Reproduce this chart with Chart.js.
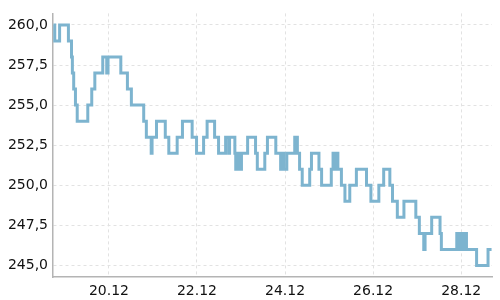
<!DOCTYPE html>
<html>
<head>
<meta charset="utf-8">
<script src="https://cdn.jsdelivr.net/npm/chart.js@4/dist/chart.umd.min.js"></script>
<style>
    html, body { margin: 0; padding: 0; background: #fff; }
    #wrap { width: 500px; height: 300px; }
</style>
</head>
<body>
<div id="wrap"><canvas id="priceChart"></canvas></div>
<script>
// time of each price change, in days of December (e.g. 20.5 = 20.12 noon)
const changeDays = [
    18.74, 18.77, 18.88, 19.08, 19.15, 19.17, 19.20, 19.24, 19.28, 19.52,
    19.61, 19.68, 19.86, 19.95, 19.98, 20.27, 20.42, 20.51, 20.79, 20.85,
    20.96, 20.98, 21.08, 21.28, 21.36, 21.55, 21.67, 21.89, 21.99, 22.15,
    22.23, 22.40, 22.49, 22.65, 22.72, 22.74, 22.86, 22.88, 22.91, 22.94,
    22.97, 22.99, 23.01, 23.15, 23.33, 23.37, 23.54, 23.60, 23.79, 23.90,
    23.94, 23.97, 24.04, 24.22, 24.28, 24.33, 24.39, 24.56, 24.60, 24.77,
    24.83, 25.05, 25.09, 25.13, 25.16, 25.20, 25.28, 25.36, 25.47, 25.62,
    25.85, 25.95, 26.13, 26.24, 26.38, 26.44, 26.55, 26.70, 26.97, 27.05,
    27.15, 27.18, 27.33, 27.52, 27.55, 27.90, 27.94, 27.98, 28.03, 28.07,
    28.12, 28.35, 28.61, 28.69
];
const prices = [
    260, 259, 260, 259, 258, 257, 256, 255, 254, 255,
    256, 257, 258, 257, 258, 257, 256, 255, 254, 253,
    252, 253, 254, 253, 252, 253, 254, 253, 252, 253,
    254, 253, 252, 253, 252, 253, 252, 251, 252, 251,
    252, 251, 252, 253, 252, 251, 252, 253, 252, 251,
    252, 251, 252, 253, 252, 251, 250, 251, 252, 251,
    250, 251, 252, 251, 252, 251, 250, 249, 250, 251,
    250, 249, 250, 251, 250, 249, 248, 249, 248, 247,
    246, 247, 248, 247, 246, 247, 246, 247, 246, 247,
    246, 245, 246, 246
];
const dayTicks = [20, 22, 24, 26, 28];
const priceTicks = [245, 247.5, 250, 252.5, 255, 257.5, 260];

const points = changeDays.map((d, i) => ({ x: d, y: prices[i] }));

const gridStyle = {
    color: '#e2e2e2',
    lineWidth: 1,
    drawTicks: false
};

new Chart(document.getElementById('priceChart'), {
    type: 'line',
    data: {
        datasets: [{
            data: points,
            stepped: true,
            borderColor: '#7db4cf',
            borderWidth: 3,
            pointRadius: 0,
            fill: false
        }]
    },
    options: {
        responsive: true,
        maintainAspectRatio: false,
        animation: false,
        layout: { padding: { top: 5, right: 8, left: 0, bottom: 0 } },
        plugins: {
            legend: { display: false },
            tooltip: { enabled: false }
        },
        scales: {
            x: {
                type: 'linear',
                min: 18.73,
                max: 28.70,
                grid: gridStyle,
                border: { color: '#b4b4b4', width: 1.5, dash: [3, 3] },
                afterBuildTicks: (s) => { s.ticks = dayTicks.map(v => ({ value: v })); },
                afterFit: (s) => { s.height = 23; },
                ticks: {
                    padding: 6,
                    color: '#111',
                    font: { family: 'DejaVu Sans', size: 14 },
                    maxRotation: 0,
                    callback: (v) => v + '.12'
                }
            },
            y: {
                min: 244.28,
                max: 260.72,
                grid: gridStyle,
                border: { color: '#b4b4b4', width: 1.5, dash: [3, 3] },
                afterBuildTicks: (s) => { s.ticks = priceTicks.map(v => ({ value: v })); },
                afterFit: (s) => { s.width = 53; },
                ticks: {
                    padding: 5,
                    color: '#111',
                    font: { family: 'DejaVu Sans', size: 14 },
                    callback: (v) => v.toFixed(1).replace('.', ',')
                }
            }
        }
    }
});
</script>
</body>
</html>
